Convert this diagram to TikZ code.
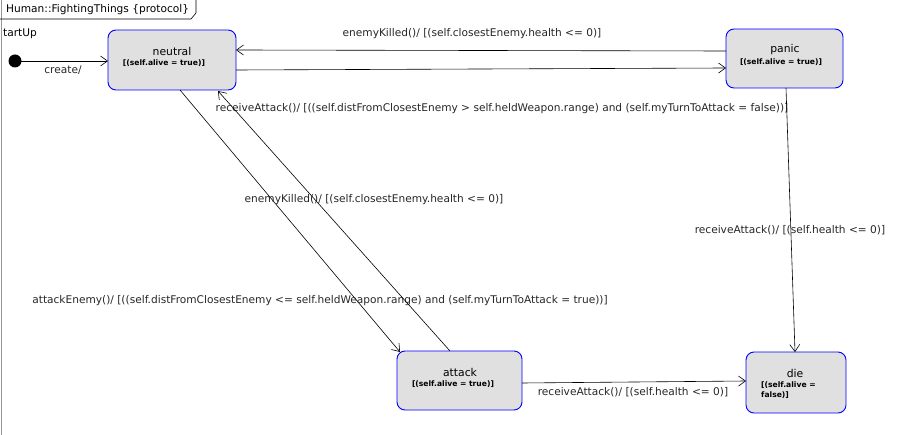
\documentclass[tikz,border=0pt]{standalone}
\usepackage{fontspec}
\setmainfont{DejaVu Sans}
\usetikzlibrary{arrows.meta}
\definecolor{stfill}{RGB}{224,224,224}
\definecolor{stborder}{RGB}{0,0,255}
\definecolor{framegray}{RGB}{150,150,150}
\tikzset{
  state/.style={draw=stborder, fill=stfill, rounded corners=8pt, line width=0.9pt},
  sname/.style={font=\fontsize{10.8}{12}\selectfont, inner sep=0pt},
  guard/.style={font=\fontsize{7.6}{10.5}\selectfont\bfseries, inner sep=0pt, align=left},
  lbl/.style={font=\fontsize{10.6}{12}\selectfont, inner sep=0pt, text=black!85},
  trans/.style={draw=black, line width=0.6pt, -{Straight Barb[length=7pt,width=10pt,line width=0.6pt]}},
}
\begin{document}
\begin{tikzpicture}[x=1pt,y=-1pt]
\useasboundingbox (0,0) rectangle (899,435);
% frame
\draw[framegray, line width=1pt] (1,0) -- (1,435);
\draw[black, line width=0.6pt] (0,19) -- (191,19) -- (196,13) -- (196,0);
\node[lbl, anchor=west, text=black] (title) at (6,9.5) {Human::FightingThings \{protocol\}};
\node[lbl, anchor=west, text=black] (su) at (3,34) {tartUp};
% initial
\fill (15,61) circle (6.5);
\coordinate (init) at (15,61);
% states
\draw[state] (108,30) rectangle (236,90);
\node[sname] (nN) at (172,51) {neutral};
\node[guard] (nG) at (164,63) {[(self.alive = true)]};

\draw[state] (726,29) rectangle (843,88);
\node[sname] (pN) at (785,50) {panic};
\node[guard] (pG) at (781,62) {[(self.alive = true)]};

\draw[state] (397,351) rectangle (522,410);
\node[sname] (aN) at (460,372) {attack};
\node[guard] (aG) at (453,384) {[(self.alive = true)]};

\draw[state] (746,352) rectangle (846,413);
\node[sname] (dN) at (795,373) {die};
\node[guard, anchor=north west] (dG) at (761,381.5) {[(self.alive =\\false)]};

% anchor coordinates
\coordinate (nL) at (108,61);
\coordinate (nR1) at (236,50);
\coordinate (nR2) at (236,70);
\coordinate (nB1) at (180,90);
\coordinate (nB2) at (218,91);
\coordinate (pL1) at (726,51);
\coordinate (pL2) at (726,68);
\coordinate (pB) at (786,88);
\coordinate (aT1) at (400,352);
\coordinate (aT2) at (450,351);
\coordinate (aR) at (522,383);
\coordinate (dT) at (795,352);
\coordinate (dL) at (746,381);

% transitions
\draw[trans] (init) -- (nL);
\node[lbl] (l0) at (63,70) {create/};
\draw[trans] (pL1) -- (nR1);
\node[lbl] (l1) at (472,34) {enemyKilled()/ [(self.closestEnemy.health <= 0)]};
\draw[trans] (nR2) -- (pL2);
\node[lbl] (l2) at (502,109) {receiveAttack()/ [((self.distFromClosestEnemy > self.heldWeapon.range) and (self.myTurnToAttack = false))]};
\draw[trans] (nB1) -- (aT1);
\node[lbl] (l3) at (320,301) {attackEnemy()/ [((self.distFromClosestEnemy <= self.heldWeapon.range) and (self.myTurnToAttack = true))]};
\draw[trans] (aT2) -- (nB2);
\node[lbl] (l4) at (374,200) {enemyKilled()/ [(self.closestEnemy.health <= 0)]};
\draw[trans] (pB) -- (dT);
\node[lbl] (l5) at (790,230) {receiveAttack()/ [(self.health <= 0)]};
\draw[trans] (aR) -- (dL);
\node[lbl] (l6) at (633,392) {receiveAttack()/ [(self.health <= 0)]};
\end{tikzpicture}
\end{document}
